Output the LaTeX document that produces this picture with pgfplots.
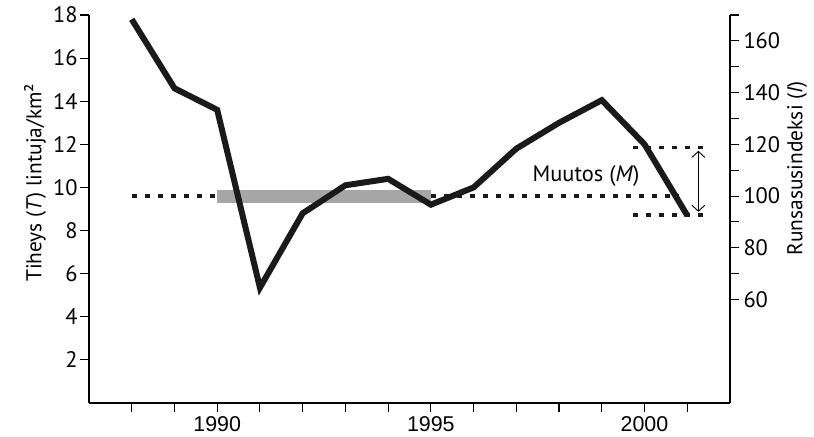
\documentclass[border=0pt]{standalone}
\usepackage{pgfplots}
\pgfplotsset{compat=1.18}
\usetikzlibrary{arrows.meta}
\usepackage{fontspec}
\setmainfont{PT Sans}
\newfontfamily\xfont{Liberation Sans}
\definecolor{ln}{HTML}{1A1A1A}
\definecolor{bar}{HTML}{A6A6A6}
\begin{document}
\begin{tikzpicture}
\pgfplotsset{every axis/.append style={
  scale only axis, width=641bp, height=388bp,
  xmin=1987, xmax=2002,
  /pgf/number format/assume math mode=true,
  tick align=outside, major tick length=9bp, minor tick length=9bp,
  every tick/.style={black, line width=1.1pt},
  axis line style={line width=1.1pt},
  yticklabel style={font=\fontsize{22.5}{26}\selectfont, xshift=1bp},
  label style={font=\fontsize{21.5}{25}\selectfont},
}}
\begin{axis}[
  ymin=0, ymax=18,
  axis x line*=bottom, axis y line*=left,
  xtick={1988,...,2001},
  xticklabels={,,1990,,,,,1995,,,,,2000,},
  xticklabel style={font=\xfont\fontsize{21.5}{25}\selectfont, yshift=-1bp},
  ytick={2,4,...,18},
  ylabel={Tiheys (\textit{T}) lintuja/km²},
  ylabel style={at={(ticklabel cs:0.57)}, xshift=-1bp},
  clip=false,
]
\addplot[ln, line width=3.7bp, dash pattern=on 5bp off 8bp] coordinates {(1988,9.6) (2000.8,9.6)};
\addplot[bar, line width=13bp] coordinates {(1990,9.58) (1995,9.58)};
\addplot[ln, line width=3.5bp, dash pattern=on 5bp off 8bp] coordinates {(1999.74,11.85) (2001.42,11.85)};
\addplot[ln, line width=3.5bp, dash pattern=on 5bp off 8bp] coordinates {(1999.74,8.72) (2001.42,8.72)};
\addplot[ln, line width=6bp, line join=miter] coordinates {
(1988,17.8) (1989,14.6) (1990,13.6) (1991,5.35) (1992,8.8) (1993,10.1) (1994,10.4)
(1995,9.2) (1996,10.0) (1997,11.8) (1998,13.0) (1999,14.05) (2000,12.0) (2001,8.7)};
\addplot[black, line width=0.9pt, {Straight Barb[length=6bp,width=13bp]}-{Straight Barb[length=6bp,width=13bp]}] coordinates {(2001.26,11.7) (2001.26,8.87)};
\node[font=\fontsize{22.5}{26}\selectfont] at (axis cs:1998.63,10.55) {Muutos (\textit{M})};
\end{axis}
\begin{axis}[
  ymin=20, ymax=170,
  axis x line=none, axis y line*=right,
  ytick={60,80,...,160},
  minor ytick={60,70,...,170},
  ylabel={Runsasusindeksi (\textit{I})},
  ylabel style={at={(ticklabel cs:0.605)}},
]
\end{axis}
\pgfresetboundingbox
\path (-89bp,-34bp) rectangle (725bp,403bp);
\end{tikzpicture}
\end{document}
